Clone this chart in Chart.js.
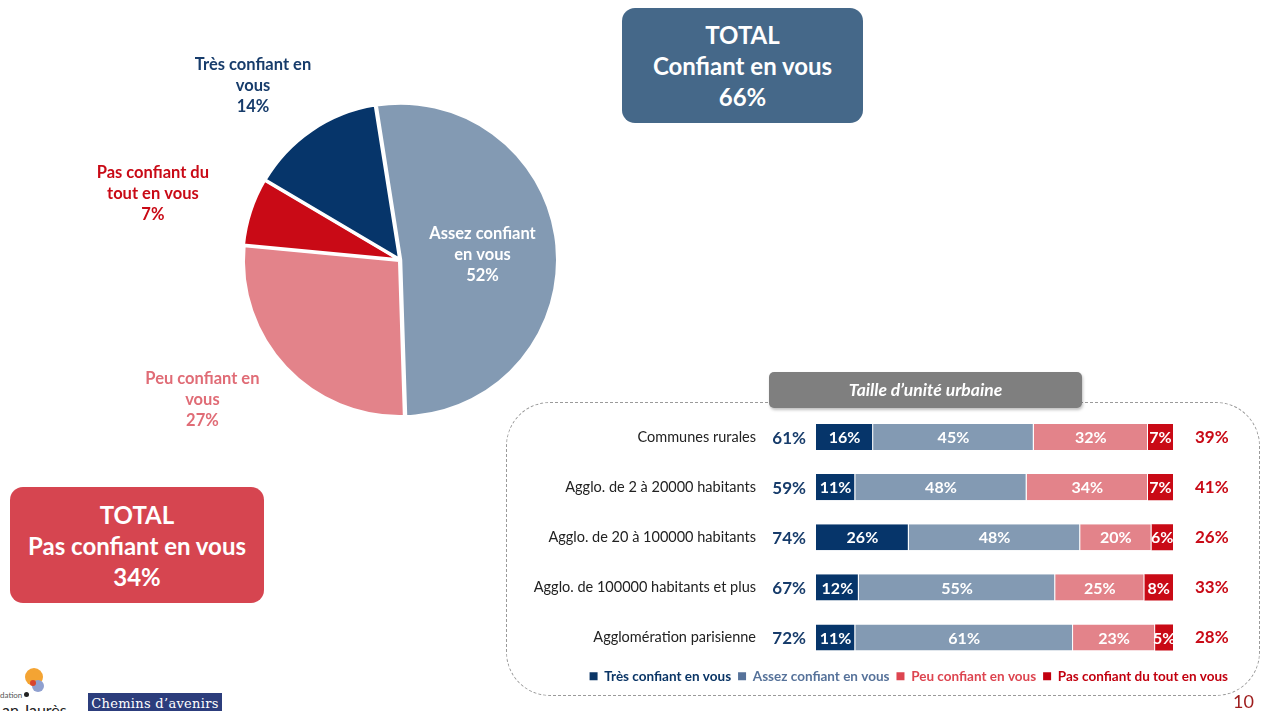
<!DOCTYPE html>
<html lang="fr">
<head>
<meta charset="utf-8">
<script src="https://cdn.jsdelivr.net/npm/chart.js@4.4.1/dist/chart.umd.min.js"></script>
<style>
  html, body { margin: 0; padding: 0; background: #fff; }
  body { width: 1267px; height: 711px; position: relative; overflow: hidden; font-family: Lato, "Open Sans", sans-serif; }
  .abs { position: absolute; }
  #pieWrap { left: 40px; top: 40px; width: 720px; height: 440px; }
  #barWrap { left: 506px; top: 412px; width: 729px; height: 281px; }
  .total { color: #fff; font-weight: 700; font-size: 24px; line-height: 31px; text-align: center; border-radius: 13px; display: flex; flex-direction: column; justify-content: center; }
  #totalConf { left: 622px; top: 8px; width: 241px; height: 115px; background: #456889; }
  #totalPas { left: 10px; top: 487px; width: 254px; height: 116px; background: #D64550; }
  #frame { left: 506px; top: 402px; width: 754px; height: 294px; border: 1.5px dashed #9a9a9a; border-radius: 44px; box-sizing: border-box; }
  #header { left: 769px; top: 372px; width: 313px; height: 36px; background: #7F7F7F; border-radius: 5px; color: #fff; font-weight: 700; font-style: italic; font-size: 17.5px; line-height: 36px; text-align: center; box-shadow: 1px 2px 3px rgba(0,0,0,0.25); }
  #pageNum { left: 1233px; top: 690px; color: #9E1C1C; font-size: 18px; }
  #chemins { left: 88px; top: 693px; width: 134px; height: 22px; background: #2C3D7C; color: #fff; font-family: "DejaVu Serif", serif; font-size: 13px; line-height: 22px; text-align: center; letter-spacing: 0.3px; }
</style>
</head>
<body>

<div class="abs total" id="totalConf"><div>TOTAL</div><div>Confiant en vous</div><div>66%</div></div>
<div class="abs total" id="totalPas"><div>TOTAL</div><div>Pas confiant en vous</div><div>34%</div></div>

<div class="abs" id="frame"></div>
<div class="abs" id="pieWrap"><canvas id="pieChart"></canvas></div>
<div class="abs" id="barWrap"><canvas id="barChart"></canvas></div>
<div class="abs" id="header">Taille d’unité urbaine</div>

<!-- logos en bas a gauche (approximation) -->
<div class="abs" style="left:25px;top:668px;width:18px;height:18px;border-radius:50%;background:#F4A433;"></div>
<div class="abs" style="left:32px;top:680px;width:12px;height:12px;border-radius:50%;background:#8FA0D0;"></div>
<div class="abs" style="left:30px;top:680px;width:6px;height:6px;border-radius:50%;background:#D9452F;"></div>
<div class="abs" style="left:24px;top:692px;width:5px;height:5px;border-radius:50%;background:#222;"></div>
<div class="abs" style="left:0px;top:690px;font-size:8px;color:#555;">dation</div>
<div class="abs" style="left:2px;top:700px;font-size:16px;color:#222;">an Jaurès</div>
<div class="abs" id="chemins">Chemins d’avenirs</div>
<div class="abs" id="pageNum">10</div>

<script>
// --- DATA ---

const pieLabels = ['Assez confiant en vous', 'Peu confiant en vous', 'Pas confiant du tout en vous', 'Très confiant en vous']
const pieValues = [52, 27, 7, 14]
const pieLabelLines = [
    ['Assez confiant', 'en vous', '52%'],
    ['Peu confiant en', 'vous', '27%'],
    ['Pas confiant du', 'tout en vous', '7%'],
    ['Très confiant en', 'vous', '14%']
]

const categories = [
    'Communes rurales',
    'Agglo. de 2 à 20000 habitants',
    'Agglo. de 20 à 100000 habitants',
    'Agglo. de 100000 habitants et plus',
    'Agglomération parisienne'
]
const tresConfiant = [16, 11, 26, 12, 11]
const assezConfiant = [45, 48, 48, 55, 61]
const peuConfiant = [32, 34, 20, 25, 23]
const pasConfiant = [7, 7, 6, 8, 5]
const totalConfiant = [61, 59, 74, 67, 72]
const totalPasConfiant = [39, 41, 26, 33, 28]

const seriesNames = ['Très confiant en vous', 'Assez confiant en vous', 'Peu confiant en vous', 'Pas confiant du tout en vous']

// --- STYLE ---

const colTres = '#06356A'
const colAssez = '#839AB3'
const colPeu = '#E3838A'
const colPas = '#C90A16'
const fontFamily = 'Lato, "Open Sans", sans-serif'

const pieColors = [colAssez, colPeu, colPas, colTres]
const pieTextColors = ['#ffffff', '#E06C76', '#C90A16', '#173C6B']
const pieLabelDist = [0.53, 1.55, 1.64, 1.46]
const pieLabelShift = [2, 8, -3, -6] // degrés

const legendColors = ['#0A3566', '#56729A', '#DD4550', '#C2000F']

// --- PIE ---

const pieLabelPlugin = {
    id: 'pieLabels',
    afterDatasetsDraw(chart){
        const ctx = chart.ctx
        const meta = chart.getDatasetMeta(0)
        ctx.save()
        ctx.font = `700 16.5px ${fontFamily}`
        ctx.textAlign = 'center'
        ctx.textBaseline = 'middle'
        meta.data.forEach((arc, i) => {
            const mid = (arc.startAngle + arc.endAngle) / 2 + pieLabelShift[i] * Math.PI / 180
            const r = arc.outerRadius * pieLabelDist[i]
            const x = arc.x + Math.cos(mid) * r
            const y = arc.y + Math.sin(mid) * r
            const lines = pieLabelLines[i]
            ctx.fillStyle = pieTextColors[i]
            lines.forEach((line, k) => {
                ctx.fillText(line, x, y + (k - (lines.length - 1) / 2) * 21)
            })
        })
        ctx.restore()
    }
}

new Chart(document.getElementById('pieChart'), {
    type: 'pie',
    data: {
        labels: pieLabels,
        datasets: [{
            data: pieValues,
            backgroundColor: pieColors,
            borderColor: '#ffffff',
            borderWidth: 3,
            offset: 3
        }]
    },
    options: {
        responsive: true,
        maintainAspectRatio: false,
        animation: false,
        rotation: -9,
        radius: 156,
        plugins: {
            legend: { display: false },
            tooltip: { enabled: false }
        }
    },
    plugins: [pieLabelPlugin]
})

// --- BARRES ---

const barLabelPlugin = {
    id: 'barLabels',
    afterDatasetsDraw(chart){
        const ctx = chart.ctx
        const area = chart.chartArea
        ctx.save()
        ctx.textBaseline = 'middle'
        ctx.font = `700 16px ${fontFamily}`
        ctx.fillStyle = '#ffffff'
        ctx.textAlign = 'center'
        chart.data.datasets.forEach((ds, di) => {
            chart.getDatasetMeta(di).data.forEach((bar, i) => {
                ctx.fillText(ds.data[i] + '%', (bar.x + bar.base) / 2, bar.y + 1)
            })
        })
        ctx.font = `700 17px ${fontFamily}`
        chart.getDatasetMeta(0).data.forEach((bar, i) => {
            ctx.fillStyle = '#173C6B'
            ctx.textAlign = 'right'
            ctx.fillText(totalConfiant[i] + '%', area.left - 10, bar.y + 1)
        })
        ctx.restore()
    }
}

const barSeries = [tresConfiant, assezConfiant, peuConfiant, pasConfiant]
const barColors = [colTres, colAssez, colPeu, colPas]

function noPadding(scale, width){
    scale.width = width
    scale.paddingTop = 0
    scale.paddingBottom = 0
}

new Chart(document.getElementById('barChart'), {
    type: 'bar',
    data: {
        labels: categories,
        datasets: barSeries.map((values, i) => ({
            label: seriesNames[i],
            data: values,
            backgroundColor: barColors[i],
            borderColor: '#ffffff',
            borderWidth: { left: 0, right: i < 3 ? 1 : 0, top: 0, bottom: 0 },
            borderSkipped: false,
            barPercentage: 0.52,
            categoryPercentage: 1
        }))
    },
    options: {
        indexAxis: 'y',
        responsive: true,
        maintainAspectRatio: false,
        animation: false,
        layout: { padding: 0 },
        scales: {
            x: {
                stacked: true,
                min: 0,
                max: 100,
                display: false
            },
            y: {
                stacked: true,
                grid: { display: false, drawTicks: false },
                border: { display: false },
                afterFit(scale){ noPadding(scale, 310) },
                ticks: {
                    padding: 60,
                    color: '#222222',
                    font: { family: fontFamily, size: 14.5 }
                }
            },
            y2: {
                type: 'category',
                position: 'right',
                offset: true,
                labels: totalPasConfiant.map(v => v + '%'),
                grid: { display: false, drawTicks: false },
                border: { display: false },
                afterFit(scale){ noPadding(scale, 62) },
                ticks: {
                    padding: 22,
                    color: colPas,
                    font: { family: fontFamily, size: 17, weight: '700' }
                }
            }
        },
        plugins: {
            tooltip: { enabled: false },
            legend: {
                position: 'bottom',
                align: 'end',
                labels: {
                    boxWidth: 8,
                    boxHeight: 8,
                    padding: 7,
                    font: { family: fontFamily, size: 13.5, weight: '700' },
                    generateLabels(chart){
                        return chart.data.datasets.map((ds, i) => ({
                            text: ds.label,
                            fillStyle: legendColors[i],
                            strokeStyle: legendColors[i],
                            lineWidth: 0,
                            fontColor: legendColors[i],
                            datasetIndex: i,
                            hidden: false
                        }))
                    }
                }
            }
        }
    },
    plugins: [barLabelPlugin]
})
</script>
</body>
</html>
